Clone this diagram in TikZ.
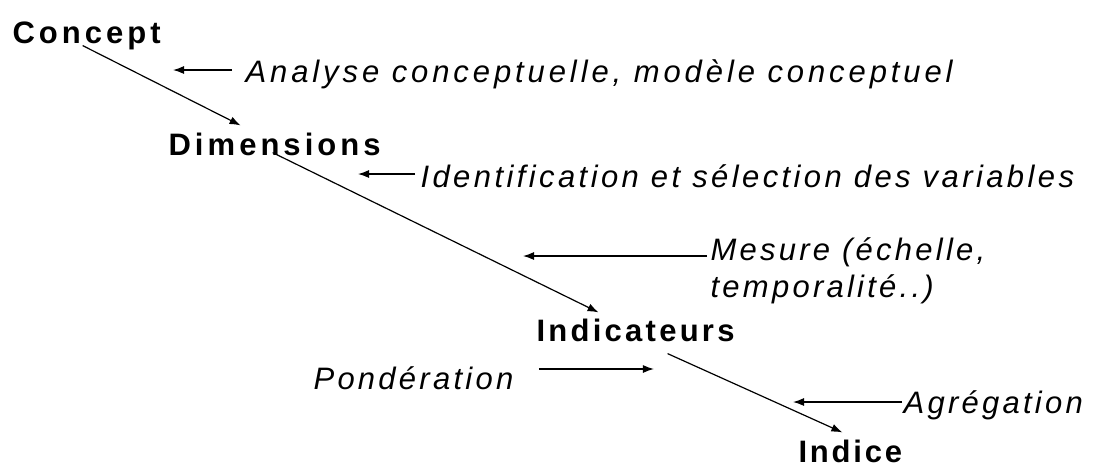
\documentclass[tikz,border=0pt]{standalone}
\usepackage{fontspec}
\setmainfont{Liberation Sans}
\newfontfamily\etapefont{Liberation Sans}[LetterSpace=13]
\newfontfamily\methodefont{Liberation Sans}[LetterSpace=10.5]
\usetikzlibrary{arrows.meta}
\begin{document}
\begin{tikzpicture}[>={Latex[length=11pt,width=8pt]},line width=1.2pt,
	etape/.style={anchor=base west,inner sep=0pt,text height=22pt,text depth=0pt,
		font=\etapefont\bfseries\fontsize{31}{37}\selectfont},
	methode/.style={anchor=base west,inner sep=0pt,
		font=\methodefont\itshape\fontsize{31}{37}\selectfont}]
\def\punkt#1#2{({(#1)*1pt},{-(#2)*1pt})}
\useasboundingbox \punkt{0}{0} rectangle \punkt{1094}{467};
% etapes
\node[etape] (concept) at \punkt{12}{43} {Concept};
\node[etape] (dim) at \punkt{168}{155} {Dimensions};
\node[etape] (ind) at \punkt{536}{341} {\addfontfeature{LetterSpace=10.5}Indicateurs};
\node[etape] (idx) at \punkt{798}{462} {\addfontfeature{LetterSpace=9}Indice};
% methodes
\node[methode] (ana) at \punkt{245}{82} {\addfontfeature{LetterSpace=12.6}Analyse conceptuelle, modèle conceptuel};
\node[methode] (idf) at \punkt{420}{187} {\addfontfeature{LetterSpace=11}Identification et sélection des variables};
\node[methode,align=left] (mes) at \punkt{710}{297} {Mesure (échelle,\\temporalité..)};
\node[methode] (pond) at \punkt{313}{389} {Pondération};
\node[methode] (agr) at \punkt{903}{413} {Agrégation};
% fleches
\draw[->] ([xshift=-4pt,yshift=-2pt]concept.south) -- ([xshift=-34pt,yshift=7pt]dim.north);
\draw[->] ([xshift=-2pt,yshift=3pt]dim.south) -- ([xshift=-37pt,yshift=6pt]ind.north);
\draw[->] ([xshift=32pt,yshift=-12pt]ind.south) -- ([xshift=-8pt,yshift=7pt]idx.north);
\draw[->] ([xshift=-13pt,yshift=12pt]ana.base west) -- ++(-59pt,0);
\draw[->] ([xshift=-5pt,yshift=13pt]idf.base west) -- ++(-57pt,0);
\draw[->] ([xshift=-3pt,yshift=41pt]mes.base west) -- ++(-184pt,0);
\draw[->] ([xshift=25pt,yshift=20pt]pond.base east) -- ++(115pt,0);
\draw[->] ([xshift=-1pt,yshift=11pt]agr.base west) -- ++(-109pt,0);
\end{tikzpicture}
\end{document}
